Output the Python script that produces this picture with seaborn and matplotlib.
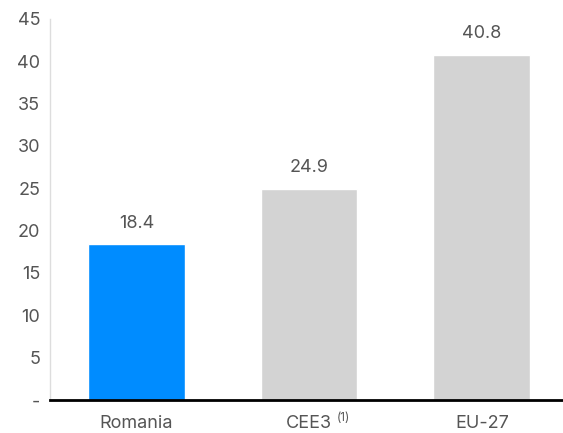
import pandas as pd
import matplotlib
matplotlib.use("Agg")
import matplotlib.pyplot as plt
import matplotlib.transforms as mtransforms
import seaborn as sns

regiones = ["Romania", "CEE3", "EU-27"]
valores = [18.4, 24.9, 40.8]
colores = ["#008CFF", "#D3D3D3", "#D3D3D3"]
nota_cee3 = "(1)"
ticks_y = [0, 5, 10, 15, 20, 25, 30, 35, 40, 45]
etiquetas_y = ["-", "5", "10", "15", "20", "25", "30", "35", "40", "45"]

sns.set_style("white")
plt.rcParams["font.family"] = ["Inter", "DejaVu Sans"]

gris_texto = "#555555"
tam = 13
df = pd.DataFrame({"region": regiones, "valor": valores})

fig = plt.figure(figsize=(5.63, 4.33), dpi=100)
ax = fig.add_axes([0.0888, 0.0762, 0.9112, 0.88])

sns.barplot(data=df, x="region", y="valor", hue="region", palette=colores,
            width=0.56, legend=False, ax=ax, saturation=1)

# Etiquetas sobre las barras
for i, v in enumerate(valores):
    ax.text(i, v + 2.5, f"{v:.1f}", ha="center", va="center",
            fontsize=tam, color=gris_texto)

ax.set_ylim(0, 45)
ax.set_xlim(-0.5, 2.47)
ax.set_yticks(ticks_y)
ax.set_yticklabels(etiquetas_y)
ax.set_xticks(range(len(regiones)))
ax.set_xticklabels(regiones)
ax.set_xlabel("")
ax.set_ylabel("")

ax.tick_params(axis="y", length=4, width=1, color="#DDDDDD",
               labelsize=tam, labelcolor=gris_texto, pad=3)
ax.tick_params(axis="x", length=0, labelsize=tam, labelcolor=gris_texto, pad=11)

# Superíndice de la nota para CEE3
trans = mtransforms.blended_transform_factory(ax.transData, ax.transAxes)
ax.text(1.16, -0.047, nota_cee3, transform=trans, ha="left", va="center",
        fontsize=8.5, color=gris_texto, clip_on=False)

sns.despine(ax=ax, top=True, right=True)
ax.spines["left"].set_color("#DDDDDD")
ax.spines["left"].set_linewidth(1)
ax.spines["bottom"].set_color("black")
ax.spines["bottom"].set_linewidth(2)
ax.spines["bottom"].set_zorder(5)

fig.savefig("out.png", dpi=100)
